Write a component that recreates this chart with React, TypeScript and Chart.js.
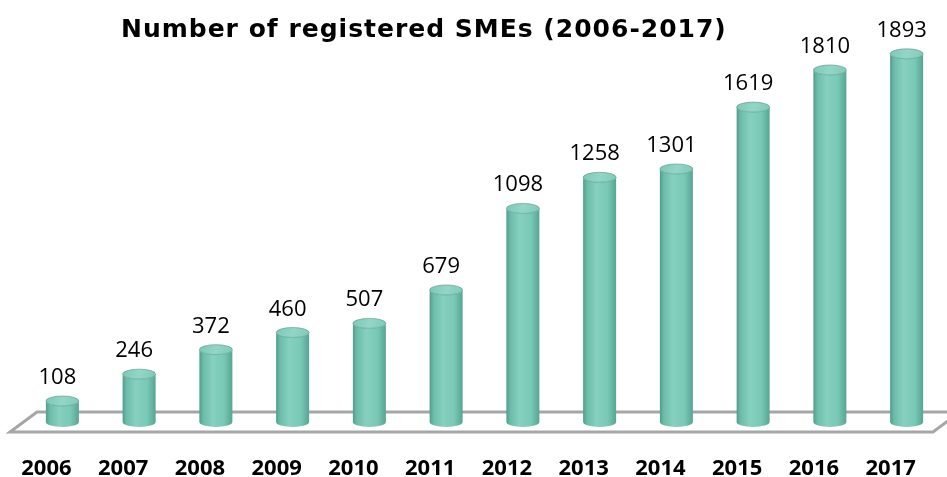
import React, { useEffect, useRef } from "react";
import { Chart, registerables } from "chart.js";

Chart.register(...registerables);

const years = ["2006", "2007", "2008", "2009", "2010", "2011", "2012", "2013", "2014", "2015", "2016", "2017"];
const smeCounts = [108, 246, 372, 460, 507, 679, 1098, 1258, 1301, 1619, 1810, 1893];
const chartTitle = "Number of registered SMEs (2006-2017)";
const yMin = 0;
const yMax = 2000;

const floorPlugin = {
  id: "floor3d",
  beforeDatasetsDraw(chart: any) {
    const { ctx, chartArea } = chart;
    const { left, right, bottom } = chartArea;
    ctx.save();
    ctx.beginPath();
    ctx.moveTo(left + 13, bottom - 10);
    ctx.lineTo(right + 15, bottom - 10);
    ctx.lineTo(right - 12, bottom + 10);
    ctx.lineTo(left - 14, bottom + 10);
    ctx.closePath();
    ctx.fillStyle = "#ffffff";
    ctx.fill();
    ctx.lineWidth = 3;
    ctx.strokeStyle = "#a6a6a6";
    ctx.lineJoin = "miter";
    ctx.stroke();
    ctx.restore();
  },
};

const cylinderPlugin = {
  id: "cylinders",
  afterDatasetsDraw(chart: any) {
    const { ctx } = chart;
    const meta = chart.getDatasetMeta(0);
    const values = chart.data.datasets[0].data as number[];
    meta.data.forEach((bar: any, i: number) => {
      const { x, y, base, width } = bar.getProps(["x", "y", "base", "width"], true);
      const rx = width / 2;
      const ry = 5;
      const l = x - rx;
      const r = x + rx;
      ctx.save();
      const g = ctx.createLinearGradient(l, 0, r, 0);
      g.addColorStop(0, "#4f9d8a");
      g.addColorStop(0.12, "#6cbca9");
      g.addColorStop(0.4, "#86d0bf");
      g.addColorStop(0.75, "#79c8b6");
      g.addColorStop(1, "#56a492");
      ctx.beginPath();
      ctx.moveTo(l, y);
      ctx.lineTo(l, base);
      ctx.ellipse(x, base, rx, ry, 0, Math.PI, 0, true);
      ctx.lineTo(r, y);
      ctx.ellipse(x, y, rx, ry, 0, 0, Math.PI, false);
      ctx.closePath();
      ctx.fillStyle = g;
      ctx.fill();
      const tg = ctx.createLinearGradient(l, y - ry, r, y + ry);
      tg.addColorStop(0, "#7cc7b6");
      tg.addColorStop(0.5, "#93d6c7");
      tg.addColorStop(1, "#7fc9b8");
      ctx.beginPath();
      ctx.ellipse(x, y, rx, ry, 0, 0, Math.PI * 2);
      ctx.fillStyle = tg;
      ctx.fill();
      ctx.lineWidth = 1;
      ctx.strokeStyle = "rgba(90,150,135,0.6)";
      ctx.stroke();
      ctx.fillStyle = "#000000";
      ctx.font = "22px 'Open Sans'";
      ctx.textAlign = "center";
      ctx.textBaseline = "alphabetic";
      ctx.fillText(String(values[i]), x - 5, y - 17);
      ctx.restore();
    });
  },
  afterDraw(chart: any) {
    const { ctx } = chart;
    ctx.save();
    ctx.fillStyle = "#000000";
    ctx.font = "bold 25px 'DejaVu Sans'";
    (ctx as any).letterSpacing = "1px";
    ctx.textAlign = "left";
    ctx.textBaseline = "alphabetic";
    ctx.fillText(chartTitle, 121, 37);
    ctx.restore();
  },
};

export default function App() {
  const canvasRef = useRef<HTMLCanvasElement | null>(null);

  useEffect(() => {
    if (!canvasRef.current) return;
    const chart = new Chart(canvasRef.current, {
      type: "bar",
      data: {
        labels: years,
        datasets: [
          {
            data: smeCounts,
            backgroundColor: "rgba(0,0,0,0)",
            borderWidth: 0,
            barPercentage: 0.43,
            categoryPercentage: 1,
          },
        ],
      },
      options: {
        animation: false,
        responsive: false,
        maintainAspectRatio: false,
        layout: { padding: { left: 24, right: 2, top: 33, bottom: 0 } },
        plugins: {
          legend: { display: false },
          tooltip: { enabled: false },
          title: { display: false },
        },
        scales: {
          x: {
            grid: { display: false },
            border: { display: false },
            afterFit: (scale: any) => {
              scale.height = 55;
              scale.paddingLeft = 0;
              scale.paddingRight = 0;
            },
            ticks: {
              color: "#000000",
              font: { family: "'Open Sans'", size: 22, weight: "bold", lineHeight: 1 },
              padding: 28,
              labelOffset: -16,
              maxRotation: 0,
              autoSkip: false,
            },
          },
          y: { display: false, min: yMin, max: yMax },
        },
      },
      plugins: [floorPlugin, cylinderPlugin],
    });
    return () => chart.destroy();
  }, []);

  return (
    <div style={{ position: "fixed", left: 0, top: 0, width: 947, height: 477, background: "#ffffff" }}>
      <canvas ref={canvasRef} width={947} height={477} style={{ display: "block" }} />
    </div>
  );
}
